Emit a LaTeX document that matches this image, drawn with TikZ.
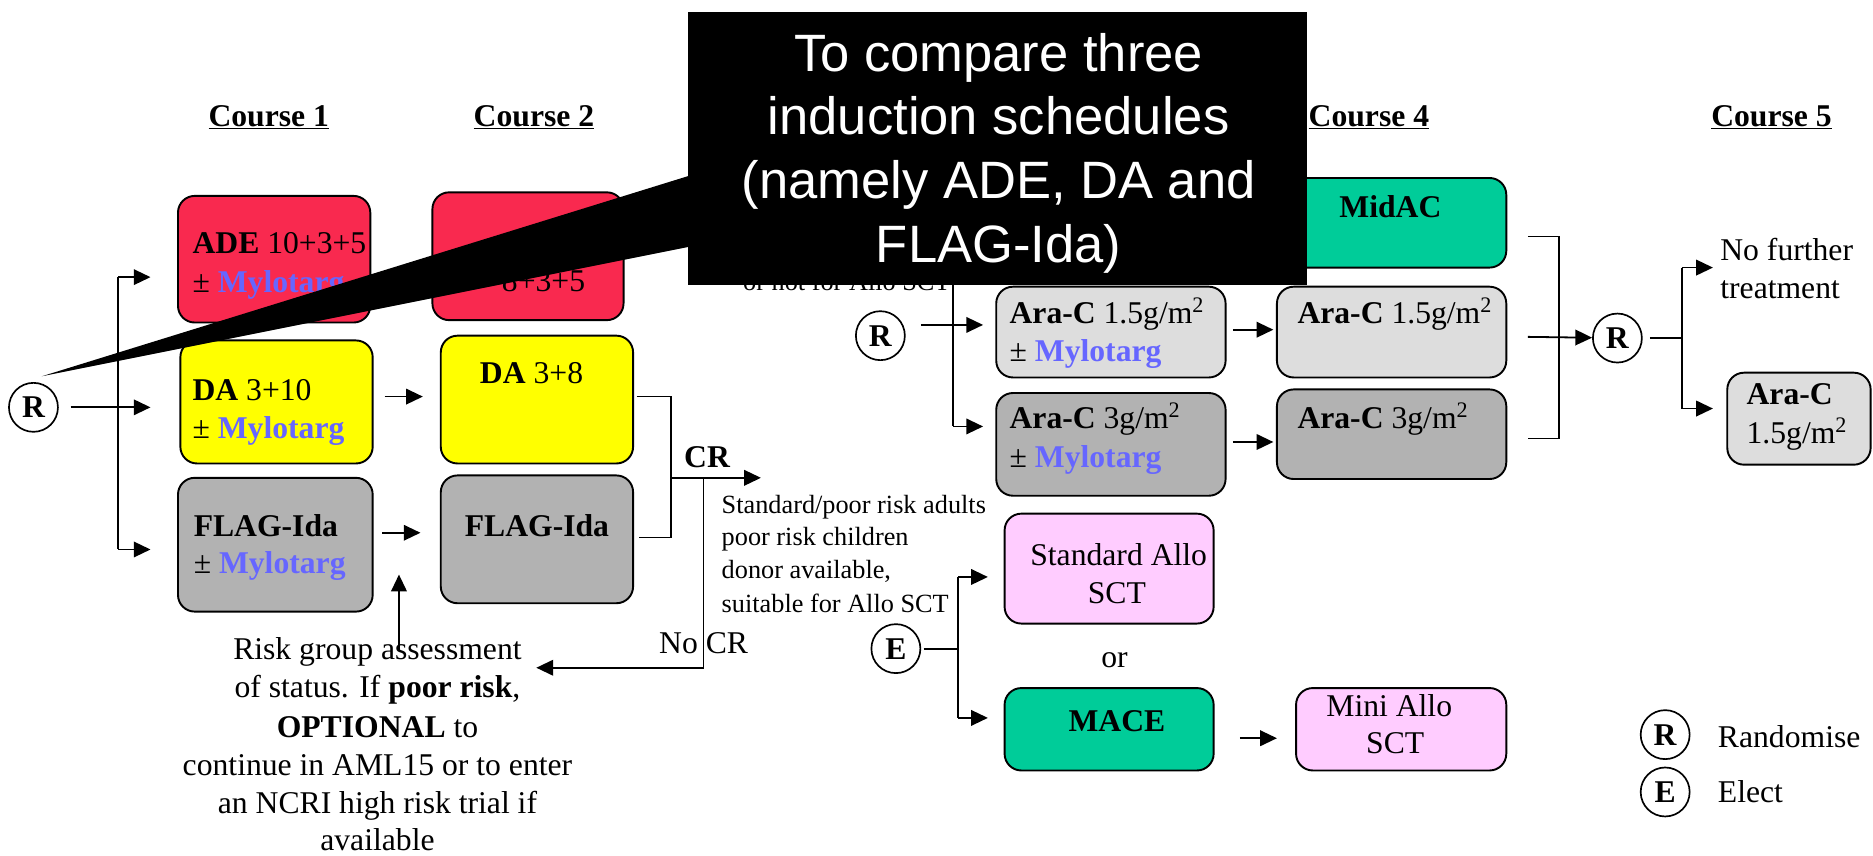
\documentclass[tikz,border=0pt]{standalone}
\usepackage{fontspec}
\setmainfont{Liberation Serif}
\newfontfamily\calloutfont{Liberation Sans}
\usetikzlibrary{arrows.meta}
\definecolor{redbox}{HTML}{F9294F}
\definecolor{yelbox}{HTML}{FFFF00}
\definecolor{graybox}{HTML}{B2B2B2}
\definecolor{lgraybox}{HTML}{DDDDDD}
\definecolor{greenbox}{HTML}{00CC99}
\definecolor{pinkbox}{HTML}{FFCCFF}
\definecolor{mylo}{HTML}{6666FF}
\newcommand\myfmain{\fontsize{26.5}{32}\selectfont}
\newcommand\myfsmall{\fontsize{22}{27.5}\selectfont}
\newcommand\mylot{\textbf{\color{mylo}Mylotarg}}
\begin{document}
\begin{tikzpicture}[x=1pt,y=-1pt,
  box/.style={draw=black,line width=1.6pt,rounded corners=14pt,inner sep=0pt},
  txt/.style={font=\myfmain,inner sep=0pt},
  tl/.style={txt,anchor=base west},
  tc/.style={txt,anchor=base},
  sm/.style={font=\myfsmall,inner sep=0pt,anchor=base west},
  hdr/.style={font=\myfmain\bfseries,inner sep=0pt,anchor=base},
  circ/.style={draw,circle,line width=1.4pt,minimum size=41pt,inner sep=0pt,font=\myfmain\bfseries},
  ln/.style={line width=1.5pt},
  arr/.style={line width=1.5pt,-{Triangle[length=14pt,width=13pt]}}]
\useasboundingbox (0,0) rectangle (1568,716);

% headers
\node[hdr] (h1) at (225,106) {\underline{Course 1}};
\node[hdr] (h2) at (447,106) {\underline{Course 2}};
\node[hdr] (h4) at (1146,106) {\underline{Course 4}};
\node[hdr] (h5) at (1483,106) {\underline{Course 5}};

% boxes
\node[box,fill=redbox,minimum width=161pt,minimum height=106pt] (ade1) at (229.5,217) {};
\node[box,fill=yelbox,minimum width=161pt,minimum height=103pt] (da1) at (231.5,336.5) {};
\node[box,fill=graybox,minimum width=163pt,minimum height=112pt] (flag1) at (230.5,456) {};
\node[box,fill=redbox,minimum width=160pt,minimum height=107pt] (ade2) at (442,214.5) {};
\node[box,fill=yelbox,minimum width=161pt,minimum height=107pt] (da2) at (449.5,334.5) {};
\node[box,fill=graybox,minimum width=161pt,minimum height=107pt] (flag2) at (449.5,451.5) {};
\node[box,fill=lgraybox,minimum width=192pt,minimum height=76pt] (ac15a) at (930,278) {};
\node[box,fill=graybox,minimum width=192pt,minimum height=86pt] (ac3a) at (930,372) {};
\node[box,fill=greenbox,minimum width=192pt,minimum height=75pt] (midac) at (1165,186.5) {};
\node[box,fill=lgraybox,minimum width=192pt,minimum height=76pt] (ac15b) at (1165,278) {};
\node[box,fill=graybox,minimum width=192pt,minimum height=75pt] (ac3b) at (1165,363.5) {};
\node[box,fill=lgraybox,minimum width=120pt,minimum height=77pt] (ac15c) at (1506,350.5) {};
\node[box,fill=pinkbox,minimum width=175pt,minimum height=92pt] (stdallo) at (928.5,476) {};
\node[box,fill=greenbox,minimum width=175pt,minimum height=69pt] (mace) at (928.5,610.5) {};
\node[box,fill=pinkbox,minimum width=176pt,minimum height=69pt] (minallo) at (1173,610.5) {};

% box texts
\node[tl] (tade1a) at (161,212) {\textbf{ADE} 10+3+5};
\node[tl] (tade1b) at (161,245) {± \mylot};
\node[tl] (tda1a) at (161,335) {\textbf{DA} 3+10};
\node[tl] (tda1b) at (161,367) {± \mylot};
\node[tl] (tfl1a) at (162,449) {\textbf{FLAG-Ida}};
\node[tl] (tfl1b) at (162,480) {± \mylot};
\node[tl] (tade2) at (420,244) {8+3+5};
\node[tc] (tda2) at (445,321) {\textbf{DA} 3+8};
\node[tc] (tfl2) at (449.5,449) {\textbf{FLAG-Ida}};
\node[tl] (tac15a) at (845,270.6) {\textbf{Ara-C} 1.5g/m\textsuperscript{2}};
\node[tl] (tac15am) at (845,303) {± \mylot};
\node[tl] (tac3a) at (845,358.6) {\textbf{Ara-C} 3g/m\textsuperscript{2}};
\node[tl] (tac3am) at (845,391) {± \mylot};
\node[tc] (tmidac) at (1164,182) {\textbf{MidAC}};
\node[tl] (tac15b) at (1086,271) {\textbf{Ara-C} 1.5g/m\textsuperscript{2}};
\node[tl] (tac3b) at (1086,358.6) {\textbf{Ara-C} 3g/m\textsuperscript{2}};
\node[tl] (tnof1) at (1440,217.7) {No further};
\node[tl] (tnof2) at (1440,249.7) {treatment};
\node[tl] (tac15c1) at (1462,339) {\textbf{Ara-C}};
\node[tl] (tac15c2) at (1462,371) {1.5g/m\textsuperscript{2}};
\node[tc] (tstd1) at (936.5,473) {Standard Allo};
\node[tc] (tstd2) at (935,505) {SCT};
\node[tc] (tor) at (933,558.6) {or};
\node[tc] (tmace) at (935,612) {\textbf{MACE}};
\node[tc] (tmini1) at (1163,599.5) {Mini Allo};
\node[tc] (tmini2) at (1168,631) {SCT};
\node[tl] (tleg1) at (1438,625.6) {Randomise};
\node[tl] (tleg2) at (1438,672) {Elect};
\node[tc] (tcr) at (592,391) {\textbf{CR}};
\node[tc] (tnocr) at (589,547) {No CR};

% small text
\node[sm] (s0) at (622,243) {or not for Allo SCT};
\node[sm] (s1) at (604,430) {Standard/poor risk adults};
\node[sm] (s2) at (604,456.5) {poor risk children};
\node[sm] (s3) at (604,484) {donor available,};
\node[sm] (s4) at (604,513) {suitable for Allo SCT};

% risk text
\node[tc] (rk1) at (316,552.5) {Risk group assessment};
\node[tc] (rk2) at (316,584) {of status. If \textbf{poor risk},};
\node[tc] (rk3) at (316,617) {\textbf{OPTIONAL} to};
\node[tc] (rk4) at (316,649) {continue in AML15 or to enter};
\node[tc] (rk5) at (316,681) {an NCRI high risk trial if};
\node[tc] (rk6) at (316,712) {available};

% circles
\node[circ] (R1) at (28,341) {R};
\node[circ] (R2) at (737,281) {R};
\node[circ] (R3) at (1354,283) {R};
\node[circ] (E1) at (750,543) {E};
\node[circ] (RL) at (1394,615) {R};
\node[circ] (EL) at (1394,663) {E};

% coordinates
\coordinate (j1t) at (99,232);
\coordinate (j1b) at (99,460);
\coordinate (a1t) at (126,232);
\coordinate (a1m) at (126,341);
\coordinate (a1b) at (126,460);
\coordinate (a2s) at (322,332);
\coordinate (a2e) at (354,332);
\coordinate (a3s) at (320,446);
\coordinate (a3e) at (352,446);
\coordinate (a4s) at (334,545);
\coordinate (a4e) at (334,481);
\coordinate (c2a) at (533,332);
\coordinate (c2b) at (562,332);
\coordinate (c2c) at (562,450);
\coordinate (c2d) at (535,450);
\coordinate (crj) at (562,400);
\coordinate (crt) at (637,400);
\coordinate (ncj) at (589,400);
\coordinate (nck) at (589,559);
\coordinate (nct) at (449,559);
\coordinate (l3s) at (771,272);
\coordinate (l3t) at (823,272);
\coordinate (v3t) at (798,200);
\coordinate (v3b) at (798,357);
\coordinate (v3e) at (823,357);
\coordinate (a5s) at (1032,276);
\coordinate (a5e) at (1066,276);
\coordinate (a6s) at (1032,370);
\coordinate (a6e) at (1066,370);
\coordinate (b4a) at (1279,198);
\coordinate (b4b) at (1305,198);
\coordinate (b4c) at (1305,367);
\coordinate (b4d) at (1279,367);
\coordinate (b4m) at (1279,282);
\coordinate (j5m) at (1408,283);
\coordinate (j5t) at (1408,224);
\coordinate (j5b) at (1408,342);
\coordinate (a7t) at (1434,224);
\coordinate (a7b) at (1434,342);
\coordinate (j6m) at (802,543);
\coordinate (j6t) at (802,483);
\coordinate (j6b) at (802,601);
\coordinate (a8t) at (827,483);
\coordinate (a8b) at (827,601);
\coordinate (a9s) at (1038,618);
\coordinate (a9e) at (1069,618);

% connectors
\draw[ln] (j1t) -- (j1b);
\draw[arr] (j1t) -- (a1t);
\draw[arr] (j1b) -- (a1b);
\draw[arr,shorten <=10pt] (R1) -- (a1m);
\draw[arr] (a2s) -- (a2e);
\draw[arr] (a3s) -- (a3e);
\draw[arr] (a4s) -- (a4e);
\draw[ln] (c2a) -- (c2b) -- (c2c) -- (c2d);
\draw[arr] (crj) -- (crt);
\draw[arr] (ncj) -- (nck) -- (nct);
\draw[arr] (l3s) -- (l3t);
\draw[ln] (v3t) -- (v3b);
\draw[arr] (v3b) -- (v3e);
\draw[arr] (a5s) -- (a5e);
\draw[arr] (a6s) -- (a6e);
\draw[ln] (b4a) -- (b4b) -- (b4c) -- (b4d);
\draw[arr] (b4m) -- (R3);
\draw[ln,shorten <=6pt] (R3) -- (j5m);
\draw[ln] (j5t) -- (j5b);
\draw[arr] (j5t) -- (a7t);
\draw[arr] (j5b) -- (a7b);
\draw[ln,shorten <=2pt] (E1) -- (j6m);
\draw[ln] (j6t) -- (j6b);
\draw[arr] (j6t) -- (a8t);
\draw[arr] (j6b) -- (a8b);
\draw[arr] (a9s) -- (a9e);

% callout
\fill[black] (35,315) -- (600,140) -- (600,202) -- cycle;
\node[fill=black,minimum width=518pt,minimum height=229pt,inner sep=0pt] (callout) at (835,124.5) {};
\node[font=\calloutfont\fontsize{44}{53.5}\selectfont,text=white,align=center,inner sep=0pt,anchor=base] (ctext) at (836,220) {To compare three\\induction schedules\\(namely ADE, DA and\\FLAG-Ida)};
\end{tikzpicture}
\end{document}
